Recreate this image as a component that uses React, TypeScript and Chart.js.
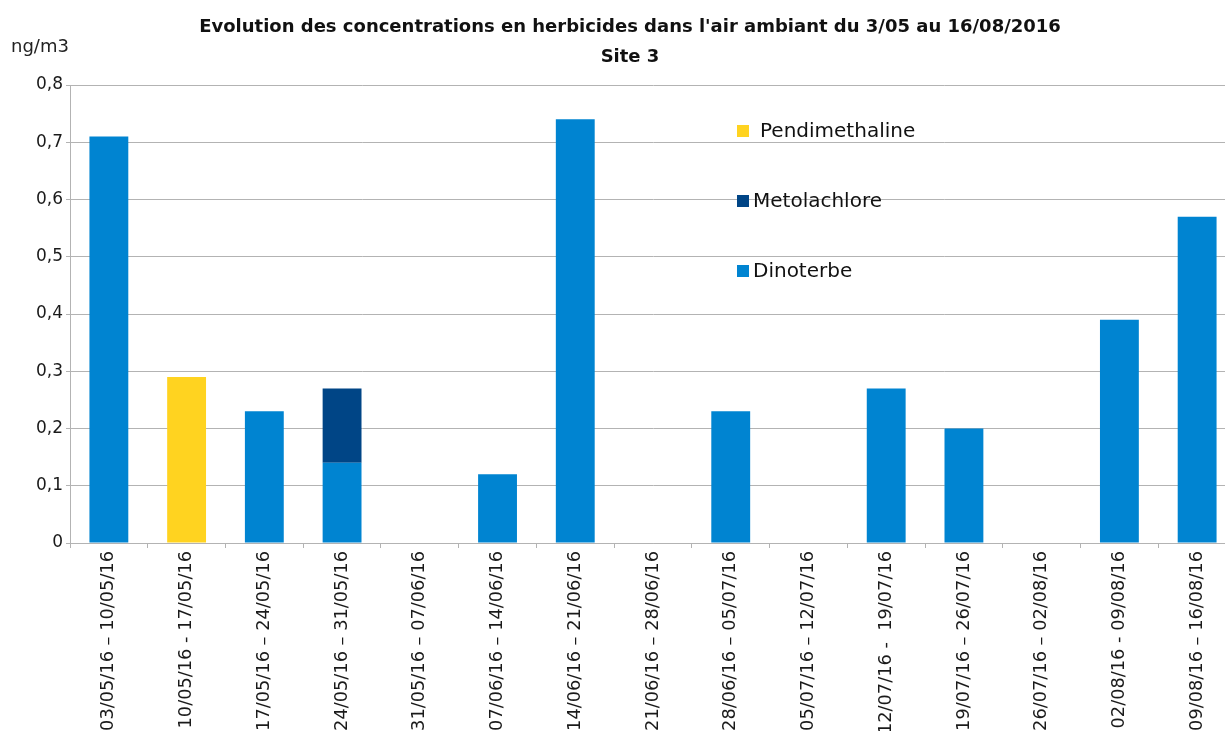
import React, { useEffect, useRef } from "react";
import { Chart, registerables } from "chart.js";

Chart.register(...registerables);

const categories = [
  "03/05/16 – 10/05/16",
  "10/05/16 - 17/05/16",
  "17/05/16 – 24/05/16",
  "24/05/16 – 31/05/16",
  "31/05/16 – 07/06/16",
  "07/06/16 – 14/06/16",
  "14/06/16 – 21/06/16",
  "21/06/16 – 28/06/16",
  "28/06/16 – 05/07/16",
  "05/07/16 – 12/07/16",
  "12/07/16 -  19/07/16",
  "19/07/16 – 26/07/16",
  "26/07/16 – 02/08/16",
  "02/08/16 - 09/08/16",
  "09/08/16 – 16/08/16",
];

const dinoterbe = [0.71, null, 0.23, 0.14, null, 0.12, 0.74, null, 0.23, null, 0.27, 0.2, null, 0.39, 0.57];
const metolachlore = [null, null, null, 0.13, null, null, null, null, null, null, null, null, null, null, null];
const pendimethaline = [null, 0.29, null, null, null, null, null, null, null, null, null, null, null, null, null];

const seriesNames = ["Dinoterbe", "Metolachlore", "Pendimethaline"];
const seriesColors = ["#0084d1", "#004586", "#ffd320"];

const titleLines = [
  "Evolution des concentrations en herbicides dans l'air ambiant du 3/05 au 16/08/2016",
  "Site 3",
];
const yUnit = "ng/m3";
const yMin = 0;
const yMax = 0.8;
const yStep = 0.1;

const FONT = "'DejaVu Sans', sans-serif";

const decorPlugin = {
  id: "decor",
  afterDraw(chart: any) {
    const ctx = chart.ctx;
    ctx.save();
    // title
    ctx.fillStyle = "#111";
    ctx.textAlign = "center";
    ctx.textBaseline = "middle";
    ctx.font = `bold 18px ${FONT}`;
    ctx.fillText(titleLines[0], 630, 27);
    ctx.fillText(titleLines[1], 630, 57);
    // unit
    ctx.font = `18px ${FONT}`;
    ctx.fillStyle = "#222";
    ctx.textAlign = "left";
    ctx.fillText(yUnit, 11, 47);
    // legend (reverse order)
    const legendY = [131, 201, 271];
    const textX = [760, 753, 753];
    const ds = chart.data.datasets;
    for (let i = 0; i < ds.length; i++) {
      const d = ds[ds.length - 1 - i];
      const y = legendY[i];
      ctx.fillStyle = d.backgroundColor;
      ctx.fillRect(737, y - 6, 12, 12);
      ctx.fillStyle = "#111";
      ctx.font = `20px ${FONT}`;
      ctx.textAlign = "left";
      ctx.fillText(d.label, textX[i], y + 1);
    }
    ctx.restore();
  },
};

export default function App() {
  const ref = useRef<HTMLCanvasElement>(null);
  useEffect(() => {
    if (!ref.current) return;
    const chart = new Chart(ref.current, {
      type: "bar",
      data: {
        labels: categories,
        datasets: [dinoterbe, metolachlore, pendimethaline].map((data, i) => ({
          label: seriesNames[i],
          data,
          backgroundColor: seriesColors[i],
          borderWidth: 0,
          barPercentage: 0.5,
          categoryPercentage: 1,
        })),
      },
      options: {
        animation: false,
        responsive: false,
        maintainAspectRatio: false,
        layout: { padding: { top: 85, right: 4, left: 0, bottom: 0 } },
        plugins: {
          legend: { display: false },
          title: { display: false },
          tooltip: { enabled: false },
        },
        scales: {
          x: {
            stacked: true,
            offset: true,
            afterFit: (s: any) => {
              s.height = 188;
            },
            grid: {
              display: true,
              drawOnChartArea: false,
              offset: true,
              tickLength: 5,
              color: "#b3b3b3",
            },
            border: { color: "#b3b3b3" },
            ticks: {
              autoSkip: false,
              maxRotation: 90,
              minRotation: 90,
              padding: 3,
              color: "#1a1a1a",
              font: { family: FONT, size: 17.8 },
            },
          },
          y: {
            stacked: true,
            min: yMin,
            max: yMax,
            afterFit: (s: any) => {
              s.width = 70;
            },
            grid: { color: "#b3b3b3", tickLength: 4 },
            border: { color: "#b3b3b3" },
            ticks: {
              stepSize: yStep,
              padding: 3,
              color: "#1a1a1a",
              font: { family: FONT, size: 17 },
              callback: (v: any) => (Number(v) === 0 ? "0" : Number(v).toFixed(1).replace(".", ",")),
            },
          },
        },
      },
      plugins: [decorPlugin],
    });
    return () => chart.destroy();
  }, []);
  return (
    <div style={{ position: "fixed", left: 0, top: 0, width: 1225, height: 731, overflow: "hidden", background: "#fff" }}>
      <canvas ref={ref} width={1240} height={731} style={{ display: "block" }} />
    </div>
  );
}
